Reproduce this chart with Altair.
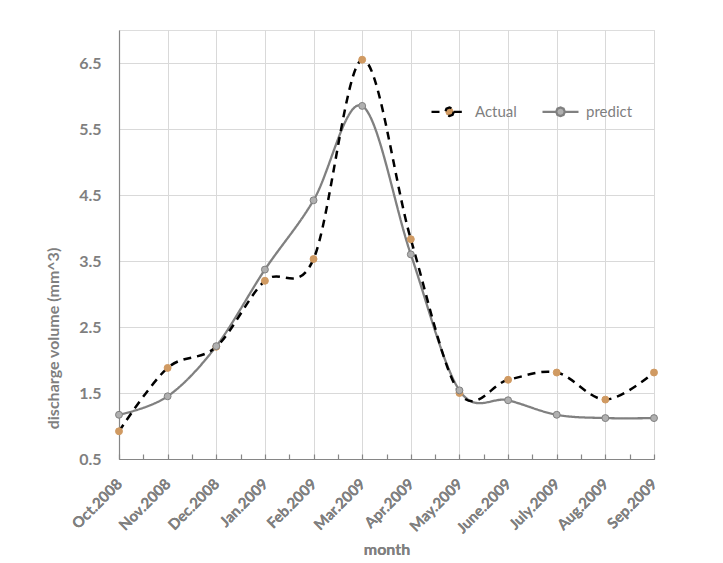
import json
import altair as alt
import pandas as pd

months = ["Oct.2008", "Nov.2008", "Dec.2008", "Jan.2009", "Feb.2009", "Mar.2009",
          "Apr.2009", "May.2009", "June.2009", "July.2009", "Aug.2009", "Sep.2009"]
actual = [0.92, 1.88, 2.20, 3.20, 3.53, 6.55, 3.83, 1.50, 1.70, 1.81, 1.40, 1.81]
predict = [1.17, 1.45, 2.21, 3.37, 4.42, 5.85, 3.60, 1.54, 1.39, 1.17, 1.12, 1.12]
series_names = ["Actual", "predict"]
y_ticks = [0.5, 1.5, 2.5, 3.5, 4.5, 5.5, 6.5]

rows = []
for i, m in enumerate(months):
    rows.append({"idx": i, "month": m, "series": "Actual", "value": actual[i]})
    rows.append({"idx": i, "month": m, "series": "predict", "value": predict[i]})
df = pd.DataFrame(rows)

FONT = "Lato"
GRAY = "#7f7f7f"
n = len(months)
label_expr = "datum.value % 1 === 0 ? " + json.dumps(months) + "[datum.value] : ''"

xscale = alt.Scale(domain=[0, n - 1], nice=False, zero=False)
yscale = alt.Scale(domain=[0.5, 7], nice=False, zero=False)

main_xaxis = alt.Axis(values=list(range(n)), labelExpr=label_expr, grid=True,
                      gridColor="#d9d9d9", ticks=False, domain=True,
                      domainColor="#868686", domainWidth=1.2, labelAngle=-45,
                      labelAlign="right", labelBaseline="middle", labelPadding=22,
                      labelOverlap=False, labelBound=False,
                      labelFont=FONT, labelFontSize=15, labelFontWeight="bold",
                      labelColor=GRAY, title="month", titleFont=FONT,
                      titleFontSize=16, titleFontWeight="bold", titleColor=GRAY,
                      titleBaseline="middle", titleY=90, orient="bottom")
tick_xaxis = alt.Axis(values=[i * 0.5 for i in range(2 * n - 1)], labels=False,
                      grid=False, domain=False, ticks=True, tickSize=5,
                      tickColor="#868686", tickWidth=1.2, offset=-5, title=None,
                      orient="bottom")
yaxis = alt.Axis(values=y_ticks, format=".1f", grid=True, gridColor="#d9d9d9",
                 ticks=False, labelOverlap=False,
                 domain=True, domainColor="#868686", domainWidth=1.2,
                 labelFont=FONT, labelFontSize=16, labelFontWeight="bold",
                 labelColor=GRAY, labelPadding=18, title="discharge volume (mm^3)",
                 titleFont=FONT, titleFontSize=16, titleFontWeight="bold",
                 titleColor=GRAY, titleX=-66, titleY=308, titleAlign="center",
                 titleBaseline="middle")

circle_path = ("M-1,0H-0.24M0.24,0H1"
               "M0.24,0L0.17,0.17L0,0.24L-0.17,0.17L-0.24,0L-0.17,-0.17L0,-0.24L0.17,-0.17Z")
legend = alt.Legend(orient="none", legendX=311, legendY=62, direction="horizontal",
                    title=None, symbolType=circle_path,
                    symbolSize=1296, symbolStrokeWidth=2.3, labelFont=FONT,
                    labelFontSize=15, labelColor=GRAY, labelOffset=6,
                    columnPadding=20)

color = alt.Color("series:N", scale=alt.Scale(domain=series_names,
                  range=["#000000", "#808080"]), legend=legend)
dash = alt.StrokeDash("series:N", scale=alt.Scale(domain=series_names,
                      range=[[8, 6], [1, 0]]), legend=legend)
fill = alt.Fill("series:N", scale=alt.Scale(domain=series_names,
                range=["#d09a62", "#b0b0b0"]), legend=legend)

base = alt.Chart(df)

line_pred = base.transform_filter(alt.datum.series == "predict").mark_line(
    interpolate="cardinal", strokeWidth=2.3).encode(
    x=alt.X("idx:Q", scale=xscale, axis=main_xaxis),
    y=alt.Y("value:Q", scale=yscale, axis=yaxis),
    color=color, strokeDash=dash)

line_act = base.transform_filter(alt.datum.series == "Actual").mark_line(
    interpolate="cardinal", strokeWidth=2.5).encode(
    x=alt.X("idx:Q", scale=xscale, axis=main_xaxis),
    y=alt.Y("value:Q", scale=yscale, axis=yaxis),
    color=color, strokeDash=dash)

pts = base.mark_point(filled=True, opacity=1, size=48, strokeWidth=1).encode(
    x=alt.X("idx:Q", scale=xscale, axis=tick_xaxis),
    y=alt.Y("value:Q", scale=yscale, axis=yaxis),
    fill=fill,
    stroke=alt.condition(alt.datum.series == "Actual", alt.value("#d09a62"),
                         alt.value("#808080")))

chart = alt.layer(line_pred, line_act, pts).resolve_axis(x="independent").properties(
    width=535, height=429,
    autosize=alt.AutoSizeParams(type="none"),
    padding={"left": 111, "top": 22, "right": 50, "bottom": 100},
).configure_view(stroke=None).configure(background="white")

chart.save("out.html", embed_options={"renderer": "svg", "actions": False})
